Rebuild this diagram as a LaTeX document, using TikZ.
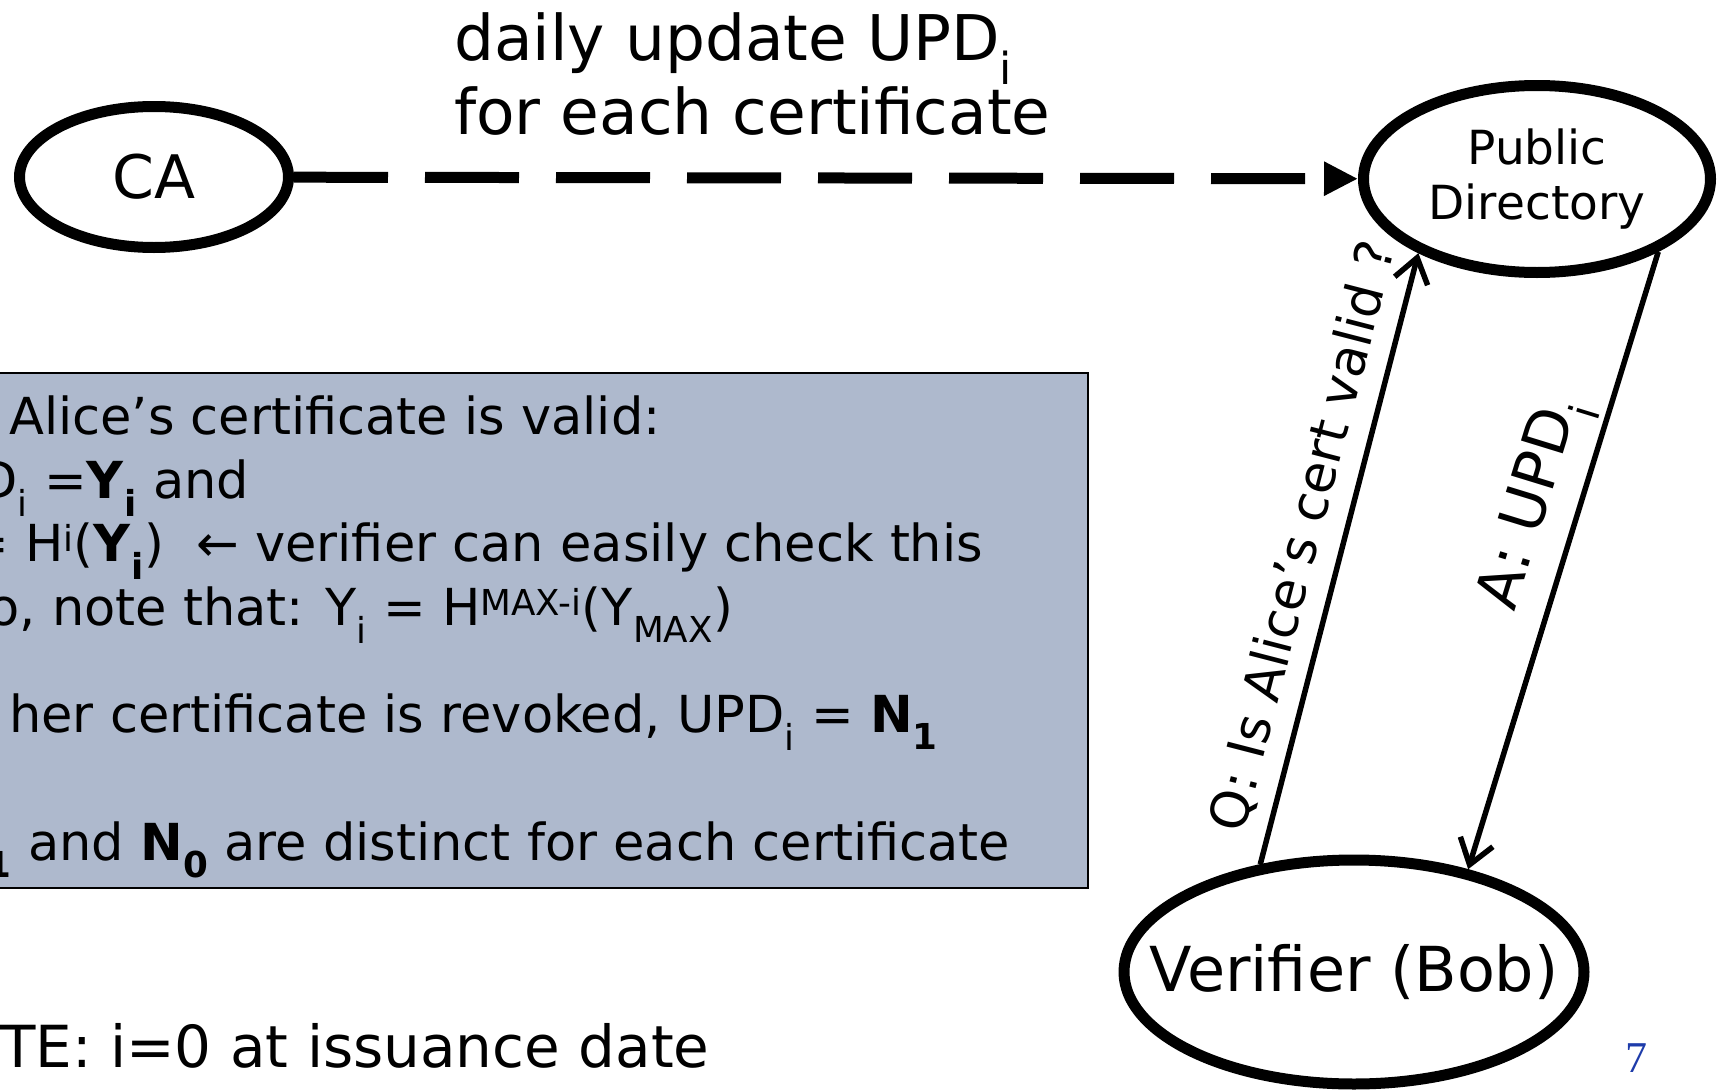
\documentclass[tikz,border=0pt]{standalone}
\usepackage{fontspec}
\setmainfont{DejaVu Sans}
\newfontfamily\serifnum{Liberation Serif}
\usetikzlibrary{shapes.geometric,arrows.meta}
\definecolor{boxfill}{RGB}{174,185,205}
\definecolor{pagenum}{RGB}{30,60,170}
\begin{document}
\begin{tikzpicture}[x=1pt,y=-1pt,
  ent/.style={draw, ellipse, line width=11pt, inner sep=0pt},
  boxtxt/.style={anchor=base west, inner sep=0pt, font=\fontsize{51}{61}\selectfont},
  toptxt/.style={anchor=base west, inner sep=0pt, font=\fontsize{63}{74}\selectfont},
  qa/.style={line width=5.5pt, -{Straight Barb[length=24pt,width=34pt,line width=5.5pt]}},
  dasharrow/.style={line width=11pt, dash pattern=on 94pt off 37pt, -{Triangle[length=34pt,width=32pt]}}
]
\useasboundingbox (0,0) rectangle (1725,1092);
\clip (0,0) rectangle (1725,1092);

% entities
\node[ent, minimum width=269pt, minimum height=141pt, font=\fontsize{60}{72}\selectfont] (ca) at (154,177) {CA};
\node[ent, minimum width=347pt, minimum height=187pt, align=center, font=\fontsize{47}{55}\selectfont] (pd) at (1537,179) {Public\\Directory};
\node[ent, minimum width=460pt, minimum height=224pt,
      label={[font=\fontsize{62}{74}\selectfont, inner sep=0pt]center:Verifier (Bob)}] (ver) at (1354,972) {};

% top label
\node[toptxt] (lab1) at (454,60) {daily update UPD\textsubscript{i}};
\node[toptxt] (lab2) at (454,134) {for each certificate};

% info box
\node[draw, fill=boxfill, line width=2pt, inner sep=0pt, minimum width=1110pt, minimum height=515pt, anchor=north east] (box) at (1089,372) {};
\node[boxtxt] (t1) at (9,434) {\llap{If }Alice's certificate is valid:};
\node[boxtxt] (t2) at (44,498) {\llap{UPD\textsubscript{i} }=\textbf{Y}\textsubscript{\textbf{i}}\ and};
\node[boxtxt] (t3) at (25,561) {\llap{Y\textsubscript{0} = }H\textsuperscript{i}(\textbf{Y}\textsubscript{\textbf{i}})\ \ ← verifier can easily check this};
\node[boxtxt] (t4) at (52,625) {\llap{Also, }note that: Y\textsubscript{i} = H\textsuperscript{MAX-i}(Y\textsubscript{MAX})};
\node[boxtxt] (t5) at (9,732) {\llap{If }her certificate is revoked, UPD\textsubscript{i} = \textbf{N}\textsubscript{\textbf{1}}};
\node[boxtxt] (t6) at (28,860) {\llap{\textbf{N}\textsubscript{\textbf{1}} }and \textbf{N}\textsubscript{\textbf{0}} are distinct for each certificate};

% bottom note
\node[anchor=base west, inner sep=0pt, font=\fontsize{58}{70}\selectfont] (note) at (0,1067) {\llap{NO}TE: i=0 at issuance date};

% page number
\node[anchor=base west, inner sep=0pt, text=pagenum, font=\serifnum\fontsize{44}{50}\selectfont] (pg) at (1625,1072) {7};

% connectors
\draw[dasharrow] (ca) -- (pd);
\draw[qa] (ver.131) -- node[sloped, above, pos=0.52, inner sep=14pt, font=\fontsize{52}{62}\selectfont] (qlab) {Q: Is Alice's cert valid ?} (pd.212);
\draw[qa] (pd.329) -- node[sloped, above, pos=0.43, inner sep=5pt, font=\fontsize{60}{72}\selectfont] (alab) {A: UPD\textsubscript{i}} (ver.42);
\end{tikzpicture}
\end{document}
